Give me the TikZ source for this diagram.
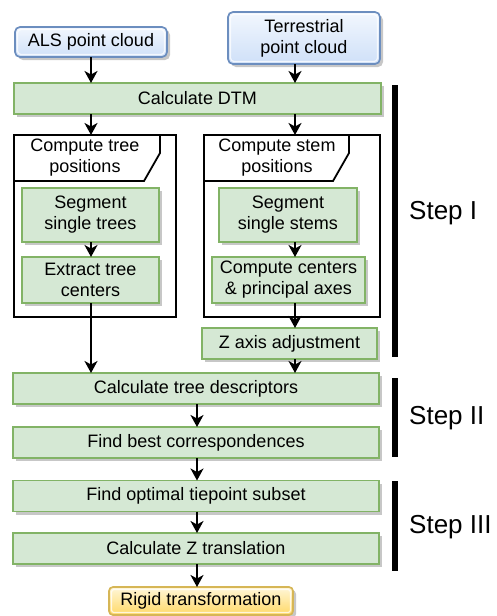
\documentclass[tikz,border=0pt]{standalone}
\usepackage{fontspec}
\setmainfont{Liberation Sans}
\usetikzlibrary{arrows.meta,shadows}
\definecolor{gfill}{HTML}{D5E8D4}
\definecolor{gline}{HTML}{82B366}
\definecolor{btop}{HTML}{F2F7FE}
\definecolor{bbot}{HTML}{CFE0F8}
\definecolor{bline}{HTML}{6C8EBF}
\definecolor{ytop}{HTML}{FFF6D9}
\definecolor{ybot}{HTML}{FFD966}
\definecolor{yline}{HTML}{D6B656}
\tikzset{
  base/.style={inner sep=0pt, outer sep=0pt, align=center,
    font=\fontsize{18}{21}\selectfont},
  shade/.style={drop shadow={shadow xshift=3pt, shadow yshift=-3pt,
    fill=black, opacity=0.22}},
  proc/.style={base, rectangle, draw=gline, fill=gfill, line width=1.7pt, shade},
  cloud/.style={base, rectangle, rounded corners=5pt, draw=bline, line width=1.7pt,
    top color=btop, bottom color=bbot, shade},
  result/.style={base, rectangle, rounded corners=4pt, draw=yline, line width=1.7pt,
    top color=ytop, bottom color=ybot, shade},
  gloss/.style={draw=white, opacity=0.75, line width=1.2pt},
  frame/.style={base, rectangle, draw=black, line width=1.8pt},
  arr/.style={line width=2pt, -{Stealth[length=12pt,width=13pt,inset=3.5pt]}},
  stepbar/.style={line width=6pt},
  steplabel/.style={anchor=west, inner sep=0pt, font=\fontsize{26}{30}\selectfont},
}
\begin{document}
\begin{tikzpicture}[x=1pt, y=-1pt]
\useasboundingbox (0,0) rectangle (496,616);

% column guides for the vertical connectors
\coordinate (lc) at (91,0);
\coordinate (mc) at (197,0);
\coordinate (rc) at (295,0);

% inputs
\node[cloud, minimum width=152pt, minimum height=30pt] (als) at (91,42) {ALS point cloud};
\node[cloud, minimum width=152pt, minimum height=52pt] (ter) at (304,38) {Terrestrial\\point cloud};
\draw[gloss, rounded corners=3.5pt] ([shift={(2.5pt,-2.5pt)}]als.north west) rectangle ([shift={(-2.5pt,2.5pt)}]als.south east);
\draw[gloss, rounded corners=3.5pt] ([shift={(2.5pt,-2.5pt)}]ter.north west) rectangle ([shift={(-2.5pt,2.5pt)}]ter.south east);

\node[proc, minimum width=367pt, minimum height=31pt] (dtm) at (197.5,98.5) {Calculate DTM};

% the two position frames
\node[frame, minimum width=162pt, minimum height=182pt] (lframe) at (95,226) {};
\node[frame, minimum width=176pt, minimum height=182pt] (rframe) at (292,226) {};
\draw[line width=1.8pt] (14,181) -- (144,181) -- (160,153) -- (160,135);
\draw[line width=1.8pt] (204,181) -- (333,181) -- (349,153) -- (349,135);
\node[base] (lhead) at (85,158) {Compute tree\\positions};
\node[base] (rhead) at (277,158) {Compute stem\\positions};

\node[proc, minimum width=137pt, minimum height=54pt] (segt) at (90.5,215) {Segment\\single trees};
\node[proc, minimum width=137pt, minimum height=46pt] (extr) at (90.5,280) {Extract tree\\centers};
\node[proc, minimum width=138pt, minimum height=54pt] (segs) at (288,215) {Segment\\single stems};
\node[proc, minimum width=153pt, minimum height=46pt] (cent) at (288.5,280) {Compute centers\\\& principal axes};
\node[proc, minimum width=175pt, minimum height=31pt] (zax) at (289.5,343.5) {Z axis adjustment};

% common pipeline
\node[proc, minimum width=366pt, minimum height=31pt] (desc) at (196,388.5) {Calculate tree descriptors};
\node[proc, minimum width=366pt, minimum height=31pt] (best) at (196,442.5) {Find best correspondences};
\node[proc, minimum width=366pt, minimum height=31pt] (tie) at (196,496) {Find optimal tiepoint subset};
\node[proc, minimum width=366pt, minimum height=31pt] (ztr) at (196,548.5) {Calculate Z translation};
\node[result, minimum width=184pt, minimum height=28pt] (rigid) at (201,601) {Rigid transformation};
\draw[gloss, rounded corners=2.5pt] ([shift={(2.5pt,-2.5pt)}]rigid.north west) rectangle ([shift={(-2.5pt,2.5pt)}]rigid.south east);

% connectors
\draw[arr] (als.south -| lc) -- (dtm.north -| lc);
\draw[arr] (ter.south -| rc) -- (dtm.north -| rc);
\draw[arr] (dtm.south -| lc) -- (lframe.north -| lc);
\draw[arr] (dtm.south -| rc) -- (rframe.north -| rc);
\draw[arr] (segt.south -| lc) -- (extr.north -| lc);
\draw[arr] (segs.south -| rc) -- (cent.north -| rc);
\draw[arr] (extr.south -| lc) -- (desc.north -| lc);
\draw[arr] (cent.south -| rc) -- (zax.north -| rc);
\draw[arr] (zax.south -| rc) -- (desc.north -| rc);
\draw[arr] (desc.south -| mc) -- (best.north -| mc);
\draw[arr] (best.south -| mc) -- (tie.north -| mc);
\draw[arr] (tie.south -| mc) -- (ztr.north -| mc);
\draw[arr] (ztr.south -| mc) -- (rigid.north -| mc);

% step brackets
\coordinate (s1a) at (395,85);  \coordinate (s1b) at (395,357);
\coordinate (s2a) at (395,378); \coordinate (s2b) at (395,457);
\coordinate (s3a) at (395,481); \coordinate (s3b) at (395,571);
\draw[stepbar] (s1a) -- (s1b);
\draw[stepbar] (s2a) -- (s2b);
\draw[stepbar] (s3a) -- (s3b);
\node[steplabel] (st1) at (409,213) {Step I};
\node[steplabel] (st2) at (409,418) {Step II};
\node[steplabel] (st3) at (409,527) {Step III};
\end{tikzpicture}
\end{document}
